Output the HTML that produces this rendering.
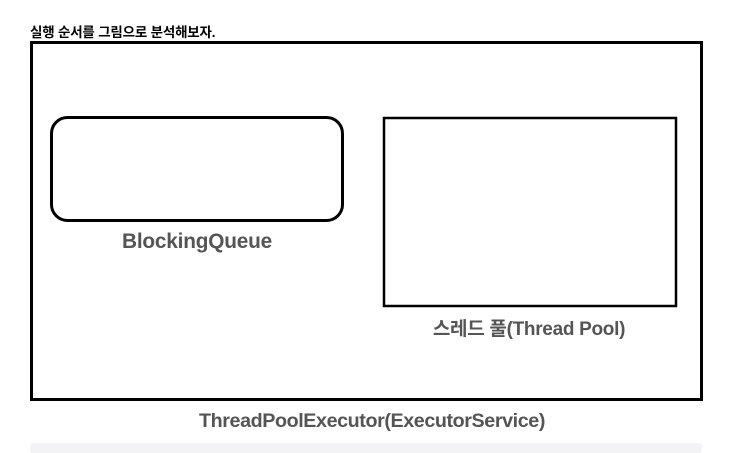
<!DOCTYPE html>
<html><head><meta charset="utf-8"><style>
body{margin:0;width:733px;height:449px;background:#fff;overflow:hidden;position:relative;font-family:"Liberation Sans","Noto Sans CJK KR",sans-serif}
.t{position:absolute;left:30px;top:21px;font-size:13.5px;font-weight:bold;color:#000;letter-spacing:-0.2px}
.lab{position:absolute;font-weight:bold;color:#555;font-size:19.5px;transform:translateX(-50%);white-space:nowrap;letter-spacing:0px}
.bar{position:absolute;left:30px;top:443px;width:672px;height:10px;background:#f3f3f5;border-radius:3px}
</style></head><body>
<div class="t">실행 순서를 그림으로 분석해보자.</div>
<svg width="733" height="449" style="position:absolute;left:0;top:0">
<rect x="31.5" y="42.5" width="670" height="357" fill="none" stroke="#000" stroke-width="3"/>
<rect x="51.5" y="117.5" width="291" height="103" rx="16" fill="none" stroke="#000" stroke-width="3"/>
<rect x="384" y="118" width="292" height="188" fill="none" stroke="#000" stroke-width="2.5"/>
</svg>
<div class="lab" style="left:197px;top:230px;font-size:20.8px;letter-spacing:-0.2px">BlockingQueue</div>
<div class="lab" style="left:529px;top:314px;font-size:19px;letter-spacing:-0.3px">스레드 풀(Thread Pool)</div>
<div class="lab" style="left:372px;top:410px;font-size:19.7px;letter-spacing:-0.4px">ThreadPoolExecutor(ExecutorService)</div>
<div class="bar"></div>
</body></html>
